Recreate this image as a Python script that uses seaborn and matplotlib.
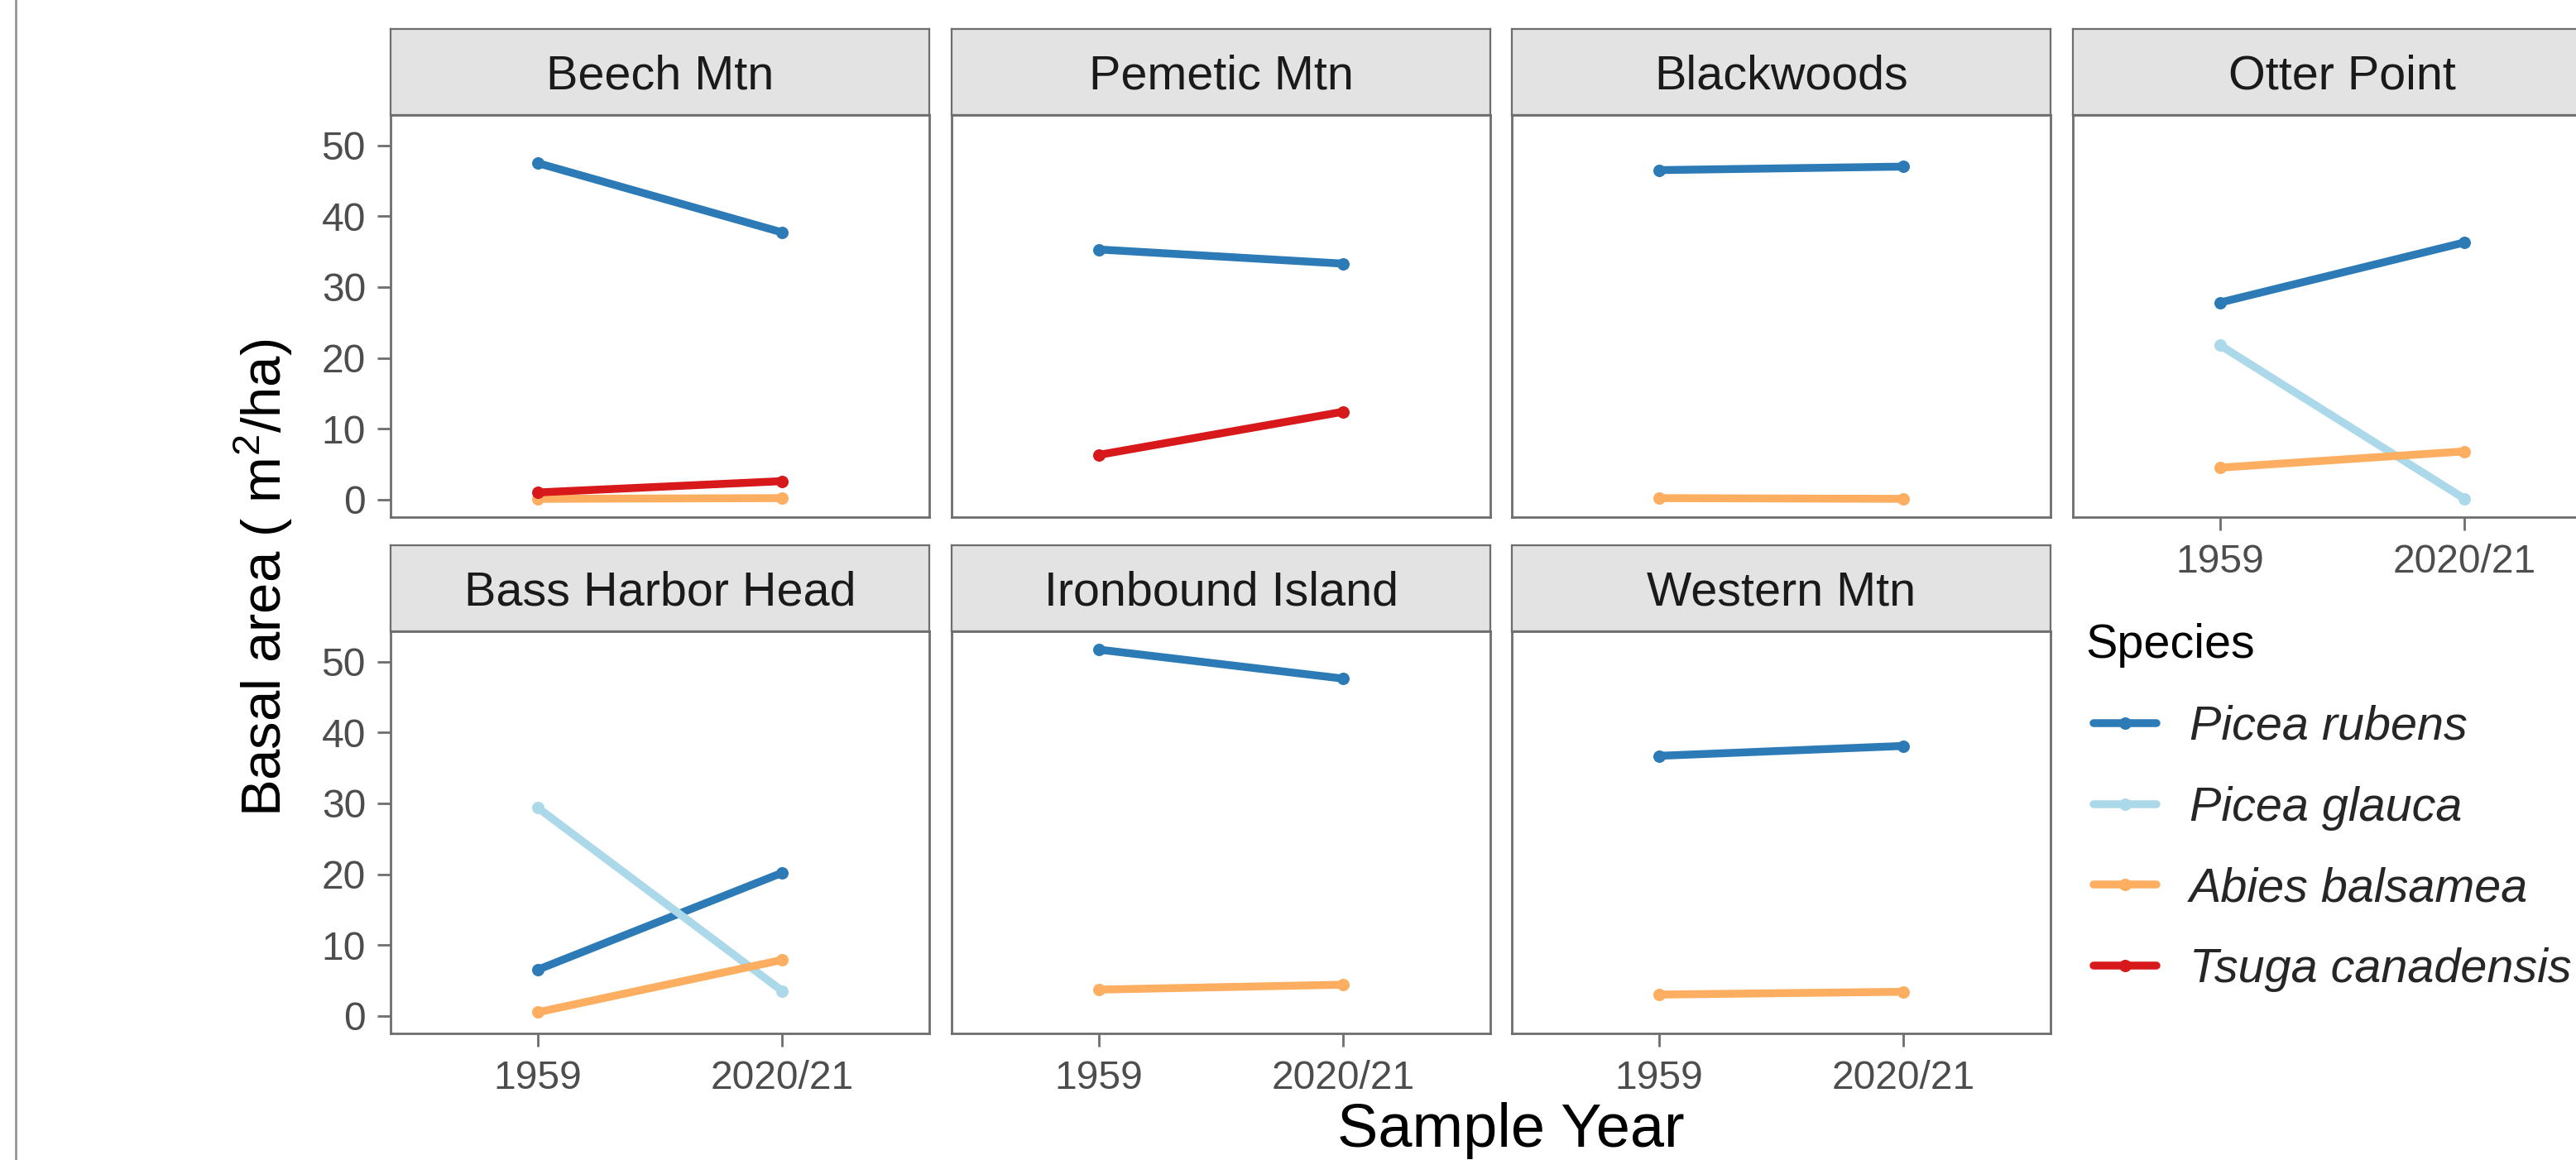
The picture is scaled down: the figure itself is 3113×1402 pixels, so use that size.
import numpy as np
import pandas as pd
import matplotlib
matplotlib.use("Agg")
import matplotlib.pyplot as plt
from matplotlib.lines import Line2D
import seaborn as sns

# ---- data -----------------------------------------------------------------
sites = ["Beech Mtn", "Pemetic Mtn", "Blackwoods", "Otter Point",
         "Bass Harbor Head", "Ironbound Island", "Western Mtn"]
years = ["1959", "2020/21"]
species = ["Picea rubens", "Picea glauca", "Abies balsamea", "Tsuga canadensis"]
species_colors = ["#2C7BB6", "#ABD9E9", "#FDAE61", "#D7191C"]

nan = np.nan
# basal area (m2/ha) per site, in the order of `sites`
picea_rubens_1959 = [47.5, 35.3, 46.5, 27.8, 6.5, 51.7, 36.7]
picea_rubens_2021 = [37.7, 33.3, 47.0, 36.3, 20.2, 47.6, 38.1]
picea_glauca_1959 = [nan, nan, nan, 21.8, 29.4, nan, nan]
picea_glauca_2021 = [nan, nan, nan, 0.1, 3.5, nan, nan]
abies_balsamea_1959 = [0.1, nan, 0.2, 4.5, 0.5, 3.7, 3.0]
abies_balsamea_2021 = [0.2, nan, 0.1, 6.8, 7.9, 4.4, 3.4]
tsuga_canadensis_1959 = [1.0, 6.3, nan, nan, nan, nan, nan]
tsuga_canadensis_2021 = [2.6, 12.4, nan, nan, nan, nan, nan]

series = {
    "Picea rubens": (picea_rubens_1959, picea_rubens_2021),
    "Picea glauca": (picea_glauca_1959, picea_glauca_2021),
    "Abies balsamea": (abies_balsamea_1959, abies_balsamea_2021),
    "Tsuga canadensis": (tsuga_canadensis_1959, tsuga_canadensis_2021),
}

records = []
for sp in species:
    v_old, v_new = series[sp]
    for site, a, b in zip(sites, v_old, v_new):
        for yr, val in zip(years, (a, b)):
            if not np.isnan(val):
                records.append({"site": site, "year": yr, "species": sp, "ba": val})
df = pd.DataFrame(records)

# ---- style ----------------------------------------------------------------
sns.set_theme(style="white")
plt.rcParams["font.family"] = ["Liberation Sans", "DejaVu Sans"]
plt.rcParams["mathtext.fontset"] = "custom"
plt.rcParams["mathtext.rm"] = "Liberation Sans"
plt.rcParams["mathtext.it"] = "Liberation Sans:italic"

W, H, DPI = 3113, 1402, 72
fig = plt.figure(figsize=(W / DPI, H / DPI), dpi=DPI)
fig.patch.set_facecolor("white")

FRAME = "#6E6E6E"
TICK_TXT = "#4D4D4D"
STRIP_FILL = "#E3E3E3"
TICK_FS = 48
STRIP_FS = 57.5
LEGEND_FS = 57.5
TITLE_FS = 74
LW_FRAME = 2.8
LINE_W = 9.5
MARK_S = 15


def px_axes(x, y, w, h, **kw):
    return fig.add_axes([x / W, 1 - (y + h) / H, w / W, h / H], **kw)


col_x = [472, 1150, 1827, 2505]
panel_w = 651
strip_top = [35, 659]
strip_h = 104
panel_h = 486

lo = np.nanmin(df["ba"].values)
hi = np.nanmax(df["ba"].values)
pad = 0.05 * (hi - lo)
ylim = (lo - pad, hi + pad)

palette = dict(zip(species, species_colors))

for i, site in enumerate(sites):
    r, c = divmod(i, 4)
    x0 = col_x[c]
    st = strip_top[r]

    # facet strip
    sax = px_axes(x0, st, panel_w, strip_h)
    sax.set_facecolor(STRIP_FILL)
    sax.set_xticks([])
    sax.set_yticks([])
    for sp_ in sax.spines.values():
        sp_.set_color(FRAME)
        sp_.set_linewidth(LW_FRAME * 0.8)
    sax.text(0.5, 0.5, site, transform=sax.transAxes, ha="center",
             va="center_baseline", fontsize=STRIP_FS, color="#1A1A1A")

    # panel
    ax = px_axes(x0, st + strip_h, panel_w, panel_h)
    sub = df[df["site"] == site]
    present = [s for s in species if s in set(sub["species"])]
    sns.pointplot(data=sub, x="year", y="ba", hue="species", order=years,
                  hue_order=present, palette=palette, markers="o",
                  linestyles="-", errorbar=None, legend=False, ax=ax,
                  markersize=MARK_S, linewidth=LINE_W, markeredgewidth=0)
    for ln in ax.lines:
        ln.set_linewidth(LINE_W)
        ln.set_markersize(MARK_S)
        ln.set_markeredgewidth(0)
    ax.set_xlim(-0.6, 1.6)
    ax.set_ylim(*ylim)
    ax.set_xlabel("")
    ax.set_ylabel("")
    ax.set_facecolor("white")
    for sp_ in ax.spines.values():
        sp_.set_visible(True)
        sp_.set_color(FRAME)
        sp_.set_linewidth(LW_FRAME)

    ax.set_yticks([0, 10, 20, 30, 40, 50])
    ax.tick_params(axis="both", length=16, width=LW_FRAME, color=FRAME,
                   labelsize=TICK_FS, labelcolor=TICK_TXT)
    ax.tick_params(axis="y", pad=14)
    ax.tick_params(axis="x", pad=16)
    if c != 0:
        ax.tick_params(axis="y", left=False, labelleft=False)
    else:
        ax.tick_params(axis="y", left=True, labelleft=True)
    if r == 1 or site == "Otter Point":
        ax.tick_params(axis="x", bottom=True, labelbottom=True)
    else:
        ax.tick_params(axis="x", bottom=False, labelbottom=False)

# axis titles
fig.text(1826 / W, 1 - 1386 / H, "Sample Year", ha="center", va="baseline",
         fontsize=TITLE_FS, color="black")
fig.text(318 / W, 1 - 698 / H, r"Basal area ($\mathregular{\ m^{2}}$/ha)",
         rotation=90, ha="center", va="center", fontsize=67, color="black")

# legend placed in the free facet slot
handles = [Line2D([0], [0], color=col, lw=LINE_W, marker="o", markersize=MARK_S,
                  markeredgewidth=0) for col in species_colors]
leg = fig.legend(handles, species, loc="upper left",
                 bbox_to_anchor=(2530 / W, 1 - 852 / H), frameon=False,
                 borderaxespad=0, borderpad=0,
                 handlelength=76 / LEGEND_FS, handletextpad=40 / LEGEND_FS,
                 labelspacing=0.76,
                 prop={"style": "italic", "size": LEGEND_FS})
fig.text(2520 / W, 1 - 795 / H, "Species", ha="left", va="baseline",
         fontsize=STRIP_FS, color="black")

# thin frame line at the left edge
fig.add_artist(Line2D([19 / W, 19 / W], [0, 1], color="#8C8C8C", lw=2.5))

fig.savefig("out.png", dpi=DPI, facecolor="white")
